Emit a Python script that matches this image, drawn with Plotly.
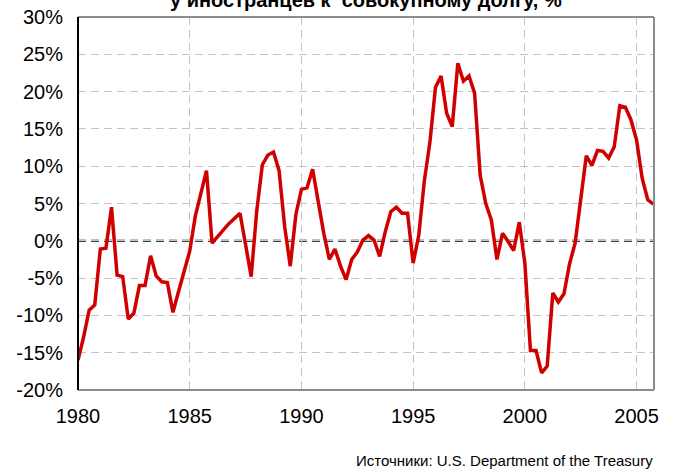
import plotly.graph_objects as go

start_year = 1980
periods_per_year = 4
share_pct = [
    -16.0, -12.9, -9.3, -8.6,
    -1.1, -1.0, 4.5, -4.6,
    -4.8, -10.5, -9.7, -6.0,
    -6.0, -2.0, -4.7, -5.5,
    -5.6, -9.6, -6.8, -3.9,
    -1.4, 3.3, 6.4, 9.4,
    -0.3, 0.6, 1.4, 2.3,
    3.0, 3.7, -0.5, -4.8,
    4.0, 10.2, 11.5, 11.9,
    9.4, 1.9, -3.4, 3.5,
    6.9, 7.1, 9.6, 5.0,
    1.0, -2.5, -1.1, -3.4,
    -5.2, -2.5, -1.5, 0.1,
    0.7, 0.1, -2.1, 1.2,
    3.9, 4.5, 3.7, 3.7,
    -3.0, 0.7, 8.0, 13.2,
    20.6, 22.1, 17.1, 15.3,
    23.8, 21.4, 22.1, 19.8,
    8.8, 5.0, 2.8, -2.5,
    1.0, -0.1, -1.3, 2.5,
    -3.0, -14.7, -14.7, -17.7,
    -16.8, -7.0, -8.2, -7.1,
    -3.1, -0.3, 5.9, 11.4,
    10.1, 12.1, 12.0, 11.1,
    12.6, 18.1, 17.9, 16.2,
    13.5, 8.4, 5.5, 4.9,
]
x_ticks = [1980, 1985, 1990, 1995, 2000, 2005]
x_tick_labels = ["1980", "1985", "1990", "1995", "2000", "2005"]
y_ticks = [-20, -15, -10, -5, 0, 5, 10, 15, 20, 25, 30]
y_tick_labels = ["-20%", "-15%", "-10%", "-5%", "0%", "5%", "10%", "15%", "20%", "25%", "30%"]
title_text = "у иностранцев к  совокупному долгу, %"
source_text = "Источники: U.S. Department of the Treasury"

x_vals = [start_year + i / periods_per_year for i in range(len(share_pct))]

FONT = "Liberation Sans, Arial, sans-serif"
DASH = "8px,5px"

fig = go.Figure()
fig.add_trace(go.Scatter(
    x=x_vals, y=share_pct, mode="lines",
    line=dict(color="#d00000", width=3.5),
    hoverinfo="skip", showlegend=False,
))

grid = dict(showgrid=True, gridcolor="#c4c4c4", gridwidth=1, griddash=DASH,
            zeroline=False, ticks="", showline=False, automargin=False)

fig.update_xaxes(range=[1980, 2005.78], tickvals=x_ticks, ticktext=x_tick_labels,
                 ticklabelstandoff=12, **grid)
fig.update_yaxes(range=[-20, 30], tickvals=y_ticks, ticktext=y_tick_labels,
                 ticklabelstandoff=14, **grid)

shapes = [
    dict(type="line", xref="paper", yref="y", x0=0, x1=1, y0=0, y1=0,
         line=dict(color="black", width=2, dash=DASH), layer="between"),
    dict(type="line", xref="paper", yref="paper", x0=0, x1=1, y0=1, y1=1,
         line=dict(color="#8c8c8c", width=2)),
    dict(type="line", xref="paper", yref="paper", x0=1, x1=1, y0=0, y1=1,
         line=dict(color="#8c8c8c", width=2)),
    dict(type="line", xref="paper", yref="paper", x0=0, x1=1, y0=0, y1=0,
         line=dict(color="#8c8c8c", width=2)),
    dict(type="line", xref="paper", yref="paper", x0=0, x1=0, y0=0, y1=1,
         line=dict(color="black", width=2)),
]

fig.update_layout(
    width=673, height=471,
    margin=dict(l=78, r=19, t=17, b=81, autoexpand=False),
    paper_bgcolor="white", plot_bgcolor="white",
    font=dict(family=FONT, size=20, color="black"),
    shapes=shapes,
    annotations=[
        dict(text="<b>" + title_text + "</b>", xref="paper", yref="paper",
             x=0.5, y=1.011, xanchor="center", yanchor="bottom",
             showarrow=False, font=dict(size=20, family=FONT)),
        dict(text=source_text, xref="paper", yref="paper",
             x=1.002, y=-0.19, xanchor="right", yanchor="middle",
             showarrow=False, font=dict(size=15, family=FONT)),
    ],
)

fig.write_html(
    "out.html",
    config={"displayModeBar": False, "staticPlot": True},
    post_script="document.body.style.margin='0';document.body.style.overflow='hidden';",
)
